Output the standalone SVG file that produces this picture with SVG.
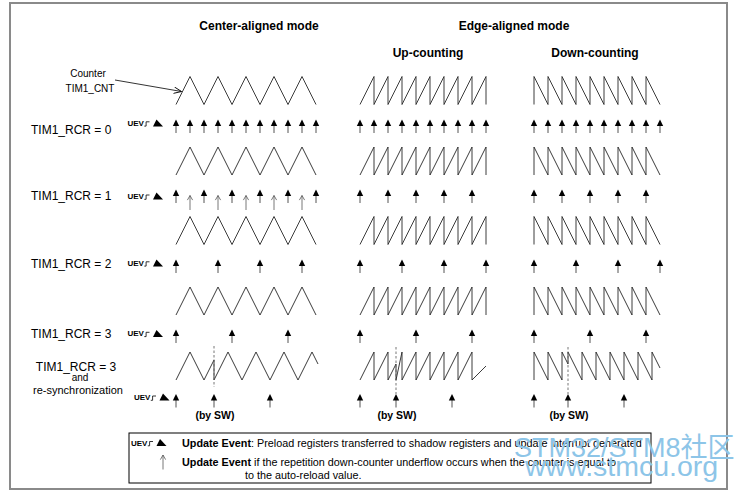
<svg xmlns="http://www.w3.org/2000/svg" width="742" height="494" viewBox="0 0 742 494">
<style>
.t{font-family:"Liberation Sans",Arial,sans-serif;fill:#000}
.hdr{font-size:12px;font-weight:bold;text-anchor:middle}
.lbl{font-size:12px}
.sm{font-size:10px;text-anchor:middle}
.uevt{font-size:8px;font-weight:bold}
.sw{font-size:10.5px;font-weight:bold;text-anchor:middle}
.lg{font-size:10.8px}
.w{fill:none;stroke:#262626;stroke-width:0.9;stroke-linejoin:miter}
.dash{fill:none;stroke:#666;stroke-width:0.9;stroke-dasharray:2.5 2}
.wm{font-family:"Liberation Sans",Arial,"Noto Sans CJK SC",sans-serif;fill:#8dc5e8}
</style>
<defs>
<g id="ua"><line x1="0" y1="6" x2="0" y2="13.5" stroke="#555" stroke-width="1"/><polygon points="0,0 -3.2,6.6 3.2,6.6" fill="#000"/></g>
<path id="oa" d="M0,0 V14.5 M-2.6,4.6 L0,0 L2.6,4.6" fill="none" stroke="#555" stroke-width="0.8"/>
<g id="uev"><text class="t uevt" x="0" y="0">UEV</text><polyline points="16.8,0.3 18.6,0.3 18.6,-4 22,-4" fill="none" stroke="#000" stroke-width="0.8"/><polygon points="25.5,0.6 35.5,0.6 29,-6.4" fill="#000"/></g>
<marker id="oh" viewBox="0 0 10 10" refX="9.5" refY="5" markerWidth="8" markerHeight="8" orient="auto" markerUnits="userSpaceOnUse"><path d="M0,1 L9.5,5 L0,9" fill="none" stroke="#000" stroke-width="1.1"/></marker>
</defs>
<rect x="0" y="0" width="742" height="494" fill="#fff"/>
<rect id="frame" x="10" y="3" width="717" height="486" fill="none" stroke="#8a8a8a" stroke-width="2"/>

<g id="headers">
<text class="t hdr" x="259" y="30">Center-aligned mode</text>
<text class="t hdr" x="514" y="30">Edge-aligned mode</text>
<text class="t hdr" x="428" y="57">Up-counting</text>
<text class="t hdr" x="595" y="57">Down-counting</text>
</g>

<g id="counter-label">
<text class="t sm" x="88" y="77">Counter</text>
<text class="t sm" x="90" y="92">TIM1_CNT</text>
</g>

<g id="row-labels">
<text class="t lbl" x="31" y="134.3">TIM1_RCR = 0</text>
<text class="t lbl" x="31" y="200.3">TIM1_RCR = 1</text>
<text class="t lbl" x="31" y="268.3">TIM1_RCR = 2</text>
<text class="t lbl" x="31" y="338.3">TIM1_RCR = 3</text>
<text class="t lbl" x="76" y="371" text-anchor="middle">TIM1_RCR = 3</text>
<text class="t sm" x="80" y="381">and</text>
<text class="t" x="78" y="394" font-size="11" text-anchor="middle">re-synchronization</text>
</g>

<g id="uev-labels">
<use href="#uev" x="127.5" y="125.8"/>
<use href="#uev" x="127.5" y="199"/>
<use href="#uev" x="127.5" y="265.8"/>
<use href="#uev" x="127.5" y="336.3"/>
<use href="#uev" x="134" y="400"/>
</g>

<g id="center-aligned">
<path class="w" d="M176,104.5 l14,-28 l14,28 l14,-28 l14,28 l14,-28 l14,28 l14,-28 l14,28 l14,-28 l14,28"/>
<path class="w" d="M176,175 l14,-28 l14,28 l14,-28 l14,28 l14,-28 l14,28 l14,-28 l14,28 l14,-28 l14,28"/>
<path class="w" d="M176,244.5 l14,-28 l14,28 l14,-28 l14,28 l14,-28 l14,28 l14,-28 l14,28 l14,-28 l14,28"/>
<path class="w" d="M176,315 l14,-28 l14,28 l14,-28 l14,28 l14,-28 l14,28 l14,-28 l14,28 l14,-28 l14,28"/>
<path class="w" d="M176,380 L190,352 L204,380 L214,360 V380 L228,352 L242,380 L256,352 L270,380 L284,352 L298,380 L312,352 L318,364"/>
<line class="dash" x1="214" y1="346" x2="214" y2="387"/>
<g id="ca-r0"><use href="#ua" x="176" y="119.5"/><use href="#ua" x="190" y="119.5"/><use href="#ua" x="204" y="119.5"/><use href="#ua" x="218" y="119.5"/><use href="#ua" x="232" y="119.5"/><use href="#ua" x="246" y="119.5"/><use href="#ua" x="260" y="119.5"/><use href="#ua" x="274" y="119.5"/><use href="#ua" x="288" y="119.5"/><use href="#ua" x="302" y="119.5"/><use href="#ua" x="316" y="119.5"/></g>
<g id="ca-r1"><use href="#ua" x="176" y="189.5"/><use href="#ua" x="204" y="189.5"/><use href="#ua" x="232" y="189.5"/><use href="#ua" x="260" y="189.5"/><use href="#ua" x="288" y="189.5"/><use href="#ua" x="316" y="189.5"/>
<use href="#oa" x="190" y="195.5"/><use href="#oa" x="218" y="195.5"/><use href="#oa" x="246" y="195.5"/><use href="#oa" x="274" y="195.5"/><use href="#oa" x="302" y="195.5"/></g>
<g id="ca-r2"><use href="#ua" x="176" y="259.5"/><use href="#ua" x="218" y="259.5"/><use href="#ua" x="260" y="259.5"/><use href="#ua" x="302" y="259.5"/></g>
<g id="ca-r3"><use href="#ua" x="176" y="329.5"/><use href="#ua" x="232" y="329.5"/><use href="#ua" x="288" y="329.5"/></g>
<g id="ca-r4"><use href="#ua" x="176" y="394"/><use href="#ua" x="214" y="394"/><use href="#ua" x="270" y="394"/></g>
<text class="t sw" x="215" y="419">(by SW)</text>
</g>

<g id="up-counting">
<path class="w" d="M360,104.5 l14,-28 v28 l14,-28 v28 l14,-28 v28 l14,-28 v28 l14,-28 v28 l14,-28 v28 l14,-28 v28 l14,-28 v28 l14,-28 v28"/>
<path class="w" d="M360,175 l14,-28 v28 l14,-28 v28 l14,-28 v28 l14,-28 v28 l14,-28 v28 l14,-28 v28 l14,-28 v28 l14,-28 v28 l14,-28 v28"/>
<path class="w" d="M360,244.5 l14,-28 v28 l14,-28 v28 l14,-28 v28 l14,-28 v28 l14,-28 v28 l14,-28 v28 l14,-28 v28 l14,-28 v28 l14,-28 v28"/>
<path class="w" d="M360,315 l14,-28 v28 l14,-28 v28 l14,-28 v28 l14,-28 v28 l14,-28 v28 l14,-28 v28 l14,-28 v28 l14,-28 v28 l14,-28 v28"/>
<path class="w" d="M360,380 l14,-28 v28 l14,-28 v28 L396,364 V380 L402,352 V380 l14,-28 v28 l14,-28 v28 l14,-28 v28 l14,-28 v28 l14,-28 v28 L486,366"/>
<line class="dash" x1="396" y1="347" x2="396" y2="394"/>
<g id="up-r0"><use href="#ua" x="360" y="119.5"/><use href="#ua" x="374" y="119.5"/><use href="#ua" x="388" y="119.5"/><use href="#ua" x="402" y="119.5"/><use href="#ua" x="416" y="119.5"/><use href="#ua" x="430" y="119.5"/><use href="#ua" x="444" y="119.5"/><use href="#ua" x="458" y="119.5"/><use href="#ua" x="472" y="119.5"/><use href="#ua" x="486" y="119.5"/></g>
<g id="up-r1"><use href="#ua" x="360" y="189.5"/><use href="#ua" x="388" y="189.5"/><use href="#ua" x="416" y="189.5"/><use href="#ua" x="444" y="189.5"/><use href="#ua" x="472" y="189.5"/></g>
<g id="up-r2"><use href="#ua" x="360" y="259.5"/><use href="#ua" x="402" y="259.5"/><use href="#ua" x="444" y="259.5"/><use href="#ua" x="486" y="259.5"/></g>
<g id="up-r3"><use href="#ua" x="360" y="329.5"/><use href="#ua" x="416" y="329.5"/><use href="#ua" x="472" y="329.5"/></g>
<g id="up-r4"><use href="#ua" x="360" y="394"/><use href="#ua" x="396" y="394"/><use href="#ua" x="452" y="394"/></g>
<text class="t sw" x="397" y="419">(by SW)</text>
</g>

<g id="down-counting">
<path class="w" d="M534,104.5 v-28 l14,28 v-28 l14,28 v-28 l14,28 v-28 l14,28 v-28 l14,28 v-28 l14,28 v-28 l14,28 v-28 l14,28 v-28 l14,28"/>
<path class="w" d="M534,175 v-28 l14,28 v-28 l14,28 v-28 l14,28 v-28 l14,28 v-28 l14,28 v-28 l14,28 v-28 l14,28 v-28 l14,28 v-28 l14,28"/>
<path class="w" d="M534,244.5 v-28 l14,28 v-28 l14,28 v-28 l14,28 v-28 l14,28 v-28 l14,28 v-28 l14,28 v-28 l14,28 v-28 l14,28 v-28 l14,28"/>
<path class="w" d="M534,315 v-28 l14,28 v-28 l14,28 v-28 l14,28 v-28 l14,28 v-28 l14,28 v-28 l14,28 v-28 l14,28 v-28 l14,28 v-28 l14,28"/>
<path class="w" d="M534,380 V352 L548,380 V352 L562,380 V352 L568,364 V352 L582,380 V352 L596,380 V352 L610,380 V352 L624,380 V352 L638,380 V352 L652,380 V352 L660,368"/>
<line class="dash" x1="568" y1="347" x2="568" y2="394"/>
<g id="dn-r0"><use href="#ua" x="534" y="119.5"/><use href="#ua" x="548" y="119.5"/><use href="#ua" x="562" y="119.5"/><use href="#ua" x="576" y="119.5"/><use href="#ua" x="590" y="119.5"/><use href="#ua" x="604" y="119.5"/><use href="#ua" x="618" y="119.5"/><use href="#ua" x="632" y="119.5"/><use href="#ua" x="646" y="119.5"/><use href="#ua" x="660" y="119.5"/></g>
<g id="dn-r1"><use href="#ua" x="534" y="189.5"/><use href="#ua" x="562" y="189.5"/><use href="#ua" x="590" y="189.5"/><use href="#ua" x="618" y="189.5"/><use href="#ua" x="646" y="189.5"/></g>
<g id="dn-r2"><use href="#ua" x="534" y="259.5"/><use href="#ua" x="576" y="259.5"/><use href="#ua" x="618" y="259.5"/><use href="#ua" x="660" y="259.5"/></g>
<g id="dn-r3"><use href="#ua" x="534" y="329.5"/><use href="#ua" x="590" y="329.5"/><use href="#ua" x="646" y="329.5"/></g>
<g id="dn-r4"><use href="#ua" x="534" y="394"/><use href="#ua" x="568" y="394"/><use href="#ua" x="624" y="394"/></g>
<text class="t sw" x="569" y="419">(by SW)</text>
</g>

<g id="connectors">
<line x1="115" y1="80" x2="181.5" y2="91.5" stroke="#000" stroke-width="0.8" marker-end="url(#oh)"/>
</g>

<g id="legend">
<rect x="129" y="433" width="522" height="50" fill="none" stroke="#000" stroke-width="1"/>
<use href="#uev" x="131" y="445.5"/>
<text class="t lg" x="182" y="447"><tspan font-weight="bold">Update Event</tspan>: Preload registers transferred to shadow registers and update interrupt generated</text>
<use href="#oa" x="163" y="455"/>
<text class="t lg" x="182" y="465.5"><tspan font-weight="bold">Update Event</tspan> if the repetition down-counter underflow occurs when the counter is equal to</text>
<text class="t lg" x="245" y="479">to the auto-reload value.</text>
</g>

<g id="watermark">
<text class="wm" x="514" y="456.5" font-size="27">STM32/STM8社区</text>
<text class="wm" x="525" y="476" font-size="28.5">www.stmcu.org</text>
</g>
</svg>
